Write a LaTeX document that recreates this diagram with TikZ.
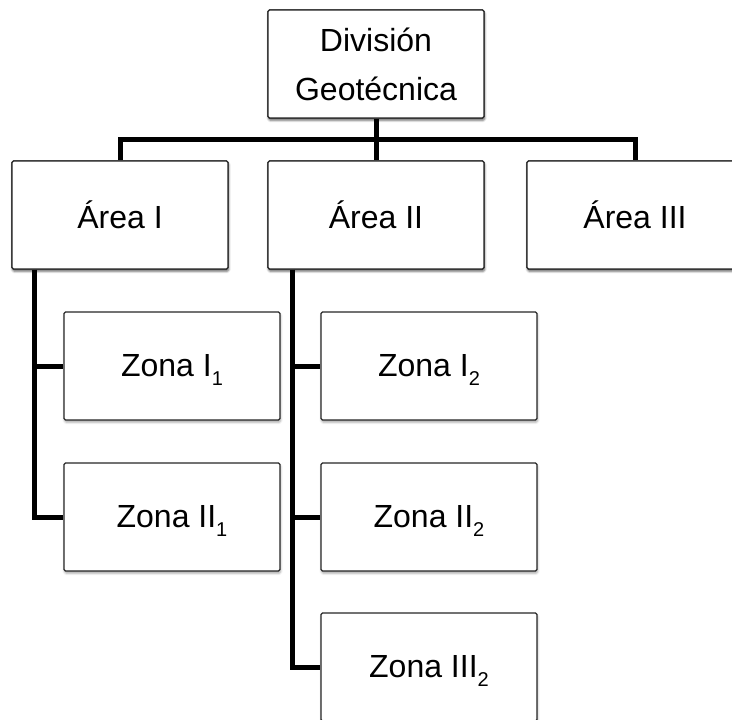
\documentclass[tikz,border=0pt]{standalone}
\usepackage{fontspec}
\setmainfont{Liberation Sans}
\usetikzlibrary{shadows.blur,calc}

% lowered index digit after a zone numeral (kept out of the box height)
\newcommand{\zidx}[1]{\raisebox{-8.5pt}[0pt][0pt]{\fontsize{20}{20}\selectfont #1}}

\tikzset{
  unitbox/.style={
    draw=black!85, line width=1.2pt, fill=white, rounded corners=1.5pt,
    minimum width=216pt, minimum height=108pt, inner sep=0pt,
    align=center, font=\fontsize{32}{49}\selectfont,
    blur shadow={shadow xshift=0.6pt, shadow yshift=-2.2pt,
                 shadow blur radius=2.2pt, shadow opacity=35}
  },
  link/.style={draw=black, line width=5pt, line join=miter}
}

\begin{document}
\begin{tikzpicture}[x=1pt, y=-1pt]
  \useasboundingbox (0,0) rectangle (732,720);
  \clip (0,0) rectangle (732,720);

  % top level and areas
  \node[unitbox] (top) at (376,64) {División\\Geotécnica};
  \node[unitbox] (a1) at (120,215) {Área I};
  \node[unitbox] (a2) at (376,215) {Área II};
  \node[unitbox] (a3) at (635,215) {Área III};

  % zones of Área I
  \node[unitbox] (z11) at (172,366) {Zona I\zidx{1}};
  \node[unitbox] (z21) at (172,517) {Zona II\zidx{1}};

  % zones of Área II
  \node[unitbox] (z12) at (429,366) {Zona I\zidx{2}};
  \node[unitbox] (z22) at (429,517) {Zona II\zidx{2}};
  \node[unitbox] (z32) at (429,667) {Zona III\zidx{2}};

  % trunk and branches under the top box
  \coordinate (bus) at (376,139);
  \draw[link] (top.south) -- (bus);
  \draw[link] (a1.north) |- (bus) -| (a3.north);
  \draw[link] (bus) -- (a2.north);

  % feeder lines to the zones
  \coordinate (f1) at ($(a1.south west)+(23,0)$);
  \coordinate (f2) at ($(a2.south west)+(25,0)$);
  \draw[link] (f1) |- (z21.west);
  \draw[link] (f1) |- (z11.west);
  \draw[link] (f2) |- (z32.west);
  \draw[link] (f2) |- (z22.west);
  \draw[link] (f2) |- (z12.west);

  % redraw boxes over the line ends
  \node[unitbox] at (top) {División\\Geotécnica};
  \node[unitbox] at (a1) {Área I};
  \node[unitbox] at (a2) {Área II};
  \node[unitbox] at (a3) {Área III};
\end{tikzpicture}
\end{document}
